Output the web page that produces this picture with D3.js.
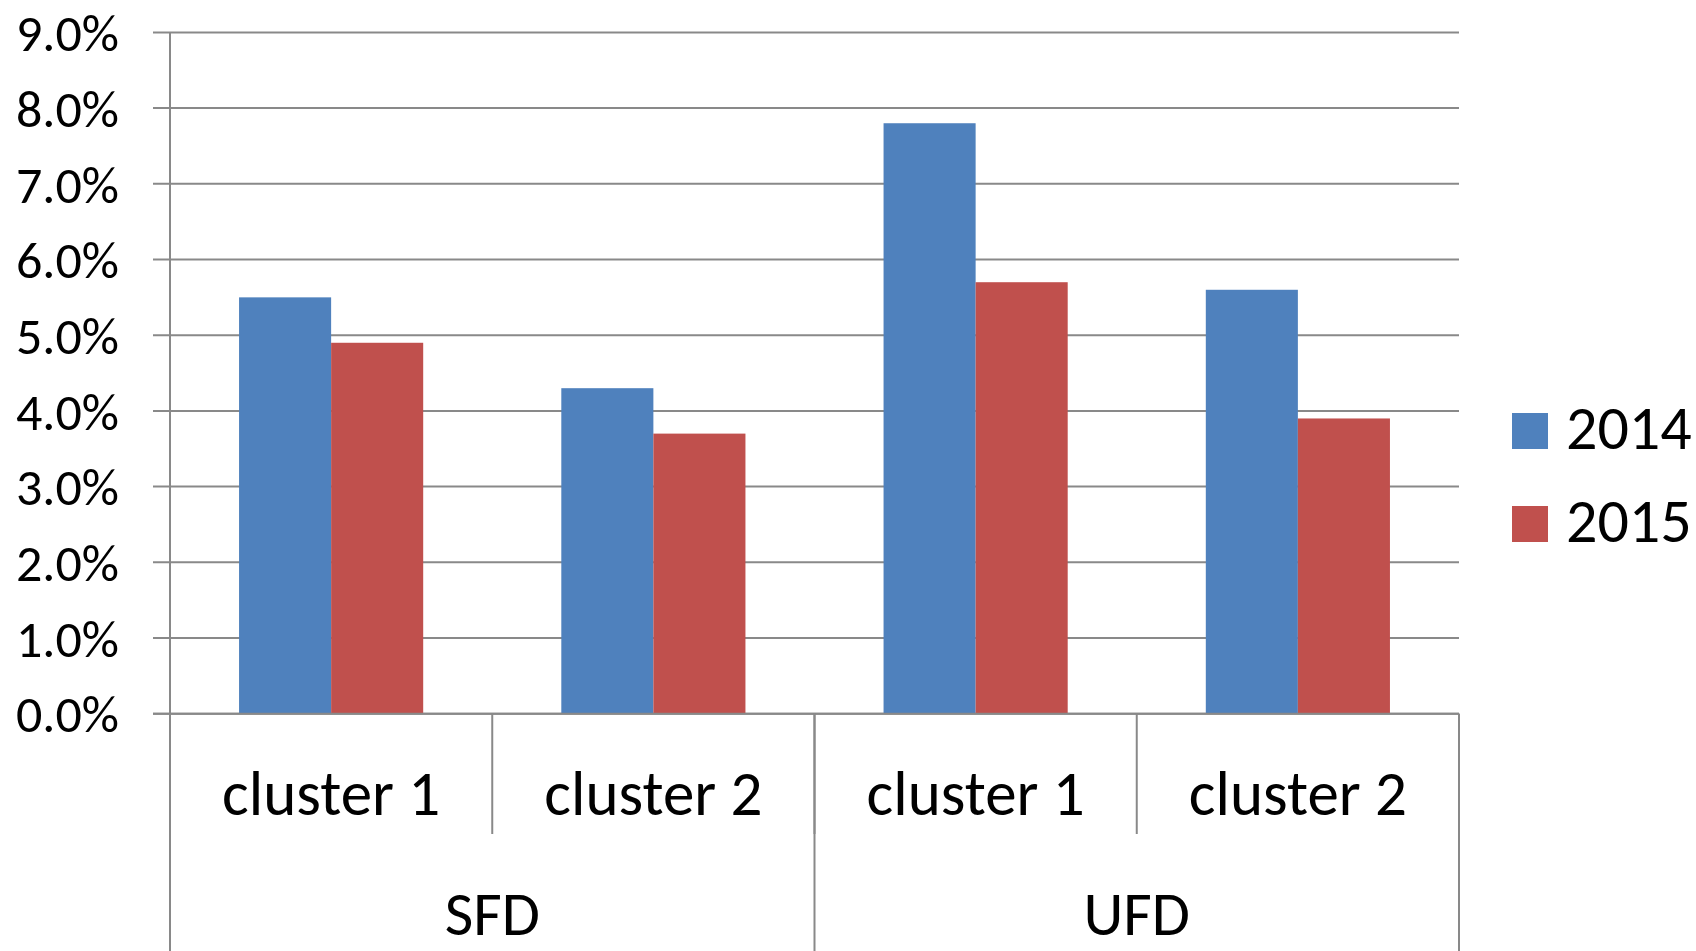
<!DOCTYPE html>
<html><head><meta charset="utf-8">
<script src="https://cdn.jsdelivr.net/npm/d3@7"></script>
<style>body{margin:0;background:#fff}text{font-family:Carlito,Lato,"Open Sans",sans-serif;fill:#000}</style>
</head><body><svg id="c" width="1696" height="951"></svg>
<script>
const groups = ["SFD","UFD"];
const clusters = ["cluster 1","cluster 2"];
const series = ["2014","2015"];
const colors = ["#4F81BD","#C0504D"];
const values2014 = [0.055,0.043,0.078,0.056];
const values2015 = [0.049,0.037,0.057,0.039];
const yTicks = [0,0.01,0.02,0.03,0.04,0.05,0.06,0.07,0.08,0.09];

const svg = d3.select("#c");
const L=170, R=1459, T=32.4, B=713.7;
const cats = [];
groups.forEach(g=>clusters.forEach(c=>cats.push(g+"|"+c)));
const x = d3.scaleBand().domain(cats).range([L,R]).padding(0);
const xg = d3.scaleBand().domain(groups).range([L,R]).padding(0);
const xs = d3.scaleBand().domain(series).range([0,x.bandwidth()]).paddingInner(0).paddingOuter(0.75);
const y = d3.scaleLinear().domain([0,0.09]).range([B,T]);
const grey="#898989";

// gridlines + ticks
svg.append("g").selectAll("line").data(yTicks).join("line")
  .attr("x1",L-17).attr("x2",R).attr("y1",d=>y(d)).attr("y2",d=>y(d))
  .attr("stroke",grey).attr("stroke-width",2);
// y axis line
svg.append("line").attr("x1",L).attr("x2",L).attr("y1",T).attr("y2",951).attr("stroke",grey).attr("stroke-width",2);
// y labels
svg.append("g").selectAll("text").data(yTicks).join("text")
  .attr("x",119).attr("y",d=>y(d)).attr("dy","0.36em").attr("text-anchor","end")
  .style("font-size","52px").text(d=>d3.format(".1%")(d));

// bars
const data = [];
cats.forEach((c,i)=>{ data.push({c,s:"2014",v:values2014[i]}); data.push({c,s:"2015",v:values2015[i]}); });
svg.append("g").selectAll("rect").data(data).join("rect")
  .attr("x",d=>x(d.c)+xs(d.s)).attr("width",xs.bandwidth())
  .attr("y",d=>y(d.v)).attr("height",d=>B-y(d.v))
  .attr("fill",d=>colors[series.indexOf(d.s)]);
// redraw baseline on top
svg.append("line").attr("x1",L-17).attr("x2",R).attr("y1",B).attr("y2",B).attr("stroke",grey).attr("stroke-width",2);

// category separators
const catBounds = cats.map(c=>x(c)).concat([R]);
svg.append("g").selectAll("line").data(catBounds).join("line")
  .attr("x1",d=>d).attr("x2",d=>d).attr("y1",B).attr("y2",834)
  .attr("stroke",grey).attr("stroke-width",2);
const grpBounds = groups.map(g=>xg(g)).concat([R]);
svg.append("g").selectAll("line").data(grpBounds).join("line")
  .attr("x1",d=>d).attr("x2",d=>d).attr("y1",B).attr("y2",951)
  .attr("stroke",grey).attr("stroke-width",2);

// category labels
svg.append("g").selectAll("text").data(cats).join("text")
  .attr("x",d=>x(d)+x.bandwidth()/2).attr("y",815).attr("text-anchor","middle")
  .style("font-size","63px").text(d=>d.split("|")[1]);
svg.append("g").selectAll("text").data(groups).join("text")
  .attr("x",d=>xg(d)+xg.bandwidth()/2).attr("y",935).attr("text-anchor","middle")
  .style("font-size","62px").text(d=>d);

// legend
const lg = svg.append("g").selectAll("g").data(series).join("g")
  .attr("transform",(d,i)=>`translate(1512,${413+i*93})`);
lg.append("rect").attr("width",36).attr("height",36).attr("fill",(d,i)=>colors[i]);
lg.append("text").attr("x",54).attr("y",36).style("font-size","62px").text(d=>d);
</script></body></html>
